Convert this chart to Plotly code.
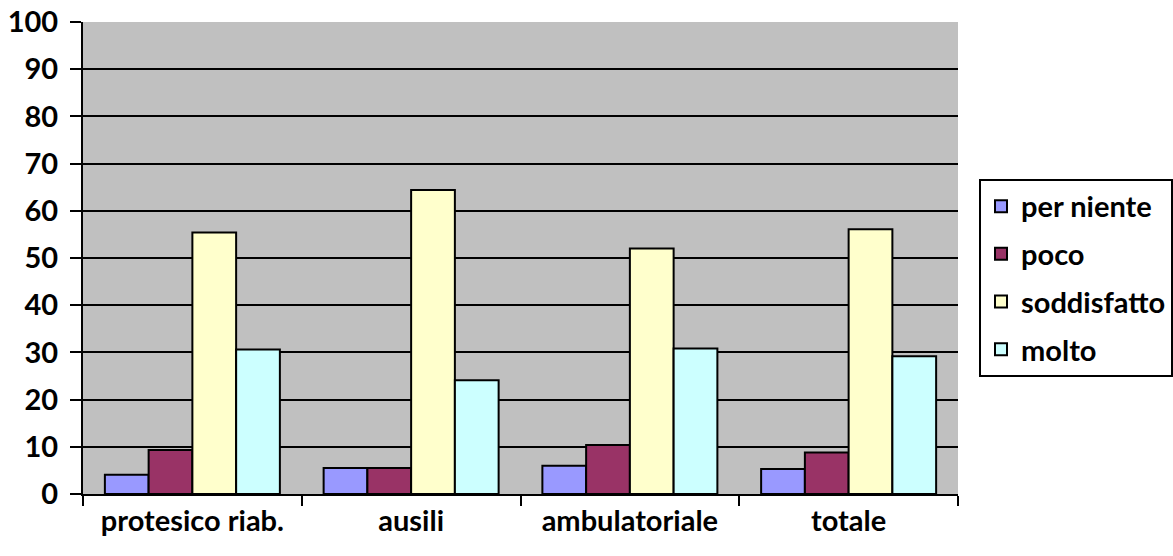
import plotly.graph_objects as go

categories = ["protesico riab.", "ausili", "ambulatoriale", "totale"]
series_names = ["per niente", "poco", "soddisfatto", "molto"]
per_niente = [4.1, 5.5, 6.0, 5.3]
poco = [9.3, 5.5, 10.4, 8.8]
soddisfatto = [55.4, 64.4, 52.0, 56.1]
molto = [30.6, 24.1, 30.8, 29.2]
y_ticks = [0, 10, 20, 30, 40, 50, 60, 70, 80, 90, 100]

colors = ["#9999FF", "#993366", "#FFFFCC", "#CCFFFF"]
values = [per_niente, poco, soddisfatto, molto]

font_family = "Lato"
fs = 29

fig = go.Figure()
for name, vals, col in zip(series_names, values, colors):
    fig.add_trace(go.Bar(
        name=name, x=categories, y=vals,
        marker=dict(color=col, line=dict(color="black", width=2)),
        legendgroup=name,
    ))

fig.update_layout(
    width=1173, height=556,
    margin=dict(l=83, r=215, t=22, b=62, autoexpand=False),
    paper_bgcolor="white",
    plot_bgcolor="#C0C0C0",
    barmode="group",
    bargap=0.2,
    bargroupgap=0,
    font=dict(family=font_family, size=fs, color="black", weight="bold"),
    showlegend=True,
    legend=dict(
        x=1.024, xanchor="left", y=0.458, yanchor="middle",
        bordercolor="black", borderwidth=2, bgcolor="white",
        font=dict(family=font_family, size=fs, color="black", weight="bold"),
        tracegroupgap=7,
        itemwidth=30,
    ),
    xaxis=dict(
        type="category",
        tickson="boundaries",
        ticks="outside", ticklen=10, tickwidth=2, tickcolor="black",
        showline=True, linecolor="black", linewidth=2,
        showgrid=False,
        tickfont=dict(family=font_family, size=fs, weight="bold"),
    ),
    yaxis=dict(
        range=[0, 100],
        tickvals=y_ticks,
        ticks="outside", ticklen=11, tickwidth=2, tickcolor="black",
        ticklabelstandoff=6,
        showline=True, linecolor="black", linewidth=2,
        showgrid=True, gridcolor="black", gridwidth=2,
        zeroline=False,
        tickfont=dict(family=font_family, size=fs, weight="bold"),
    ),
)

fig.write_html("out.html", config={"displayModeBar": False},
               post_script="document.body.style.margin='0';")
